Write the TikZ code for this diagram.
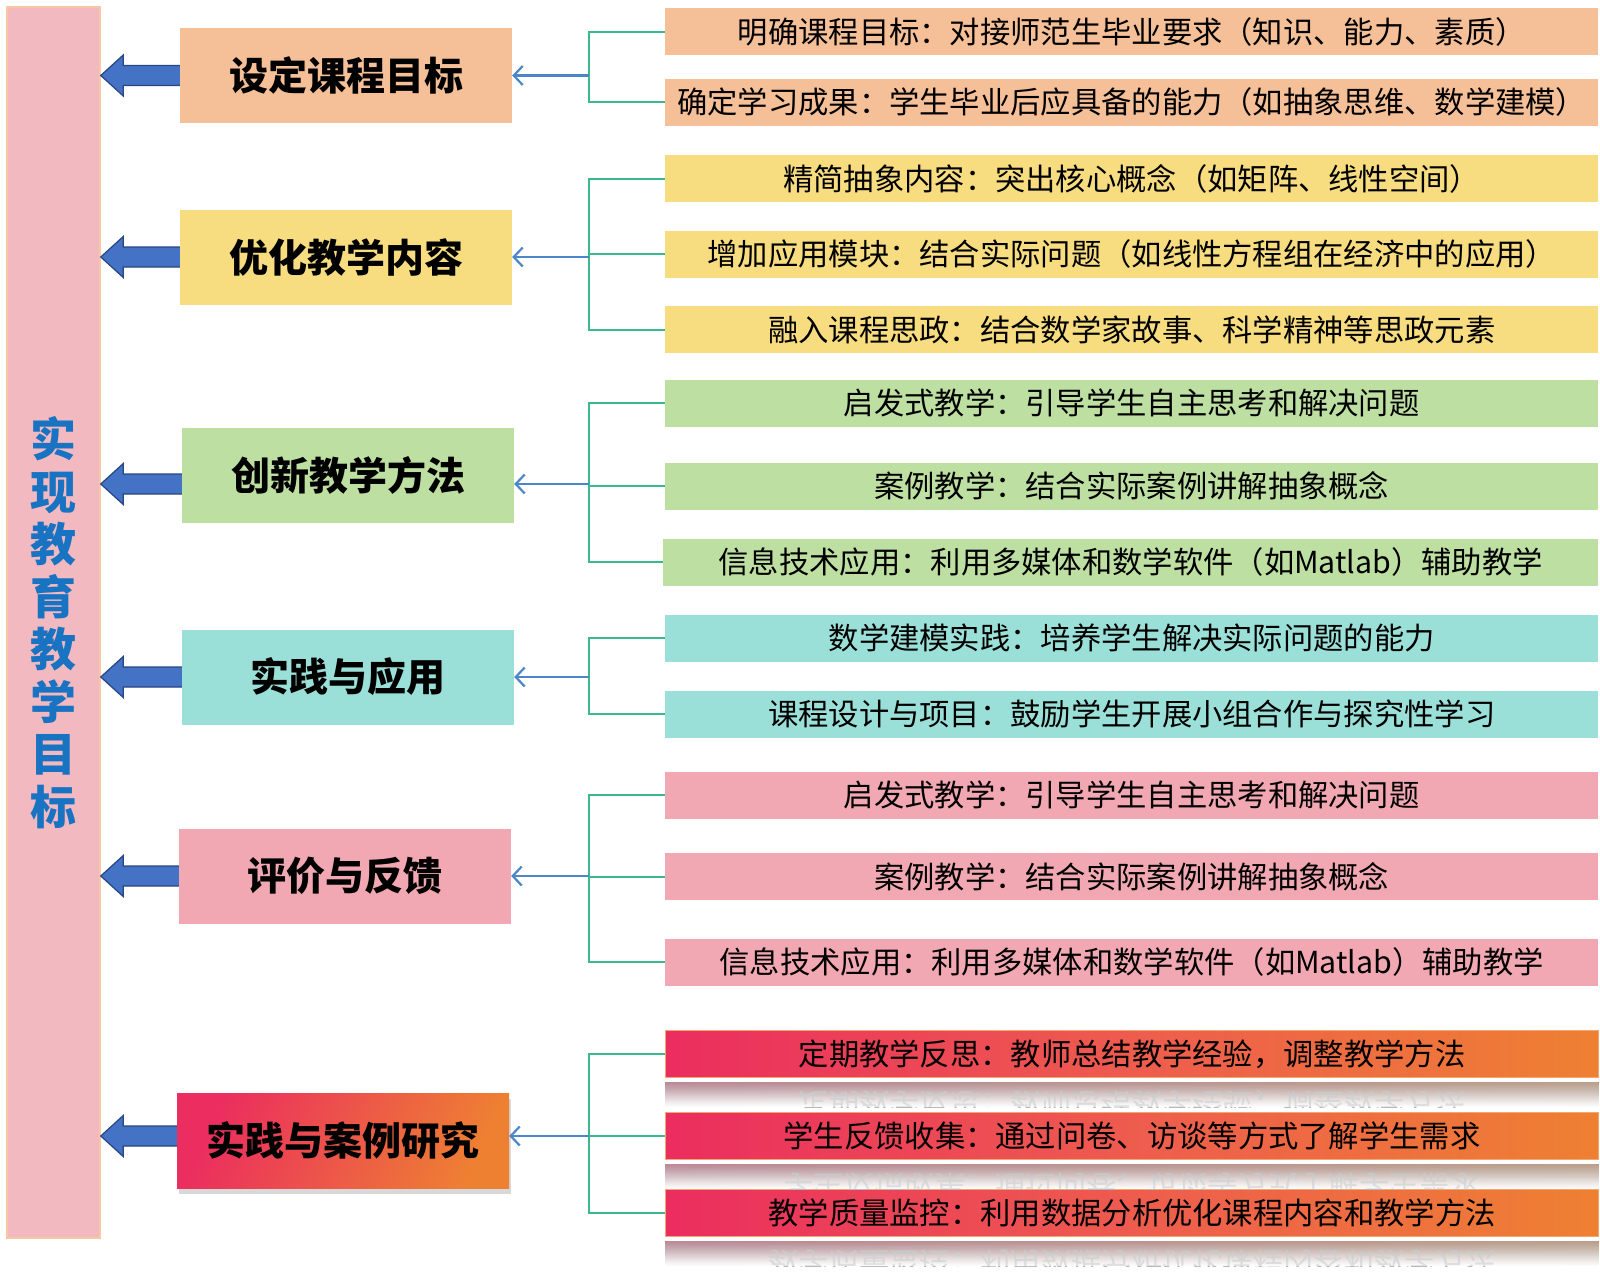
\documentclass[tikz,border=0pt]{standalone}
\usepackage{fontspec}
\setmainfont{Noto Sans CJK SC}
\usetikzlibrary{arrows.meta,shadows,fadings,calc}

\definecolor{peach}{RGB}{245,191,151}
\definecolor{yel}{RGB}{247,220,128}
\definecolor{grn}{RGB}{190,223,162}
\definecolor{tea}{RGB}{155,224,216}
\definecolor{pnk}{RGB}{242,168,178}
\definecolor{redg}{RGB}{235,45,95}
\definecolor{midg}{RGB}{238,92,78}
\definecolor{orag}{RGB}{238,128,50}
\definecolor{barfill}{RGB}{243,185,192}
\definecolor{barline}{RGB}{248,200,160}
\definecolor{titleblue}{RGB}{25,115,195}
\definecolor{arrfill}{RGB}{68,114,196}
\definecolor{arrline}{RGB}{40,70,130}
\definecolor{glin}{RGB}{60,185,140}
\definecolor{blin}{RGB}{75,135,200}

\tikzfading[name=reflfade, top color=transparent!40, bottom color=transparent!100]

\begin{document}
\begin{tikzpicture}[x=1pt,y=-1pt,
  cat/.style={minimum width=332pt, minimum height=95pt, inner sep=0pt,
    font=\fontsize{39}{39}\selectfont\bfseries},
  item/.style={minimum width=933pt, minimum height=47pt, inner sep=0pt, anchor=west,
    font=\fontsize{30.3}{31}\selectfont},
  gradbox/.style={left color=redg, right color=orag, middle color=midg},
  gline/.style={draw=glin, line width=2pt},
  bline/.style={draw=blin, line width=2.2pt, -{Straight Barb[length=9pt,width=19pt,line width=2.2pt]}},
  blockarr/.style={fill=arrfill, draw=arrline, line width=1.2pt, line join=miter},
  refltext/.style={font=\fontsize{30.3}{31}\selectfont, text=black!28, yscale=-1}
]
\useasboundingbox (0,0) rectangle (1600,1272);
\fill[white] (0,0) rectangle (1600,1272);

% left bar
\node[fill=barfill, draw=barline, line width=1.5pt, minimum width=93pt, minimum height=1231pt,
  inner sep=0pt, text width=60pt, align=center,
  font=\fontsize{46}{52.5}\selectfont\bfseries, text=titleblue]
  (bar) at (53.5,622.5) {实\\现\\教\\育\\教\\学\\目\\标};

% category boxes
\node[cat, fill=peach] (c1) at (346,75.5) {设定课程目标};
\node[cat, fill=yel]   (c2) at (346,257.5) {优化教学内容};
\node[cat, fill=grn]   (c3) at (348,475.5) {创新教学方法};
\node[cat, fill=tea]   (c4) at (348,677) {实践与应用};
\node[cat, fill=pnk]   (c5) at (345,876) {评价与反馈};
\node[cat, left color=redg, right color=orag, shading angle=65,
  drop shadow={shadow xshift=2pt, shadow yshift=-5pt, opacity=0.25, fill=black!60}]
  (c6) at (343,1141) {实践与案例研究};

% bracket coordinates (arrow heights)
\coordinate (b1) at (589,75.5);
\coordinate (b2) at (589,257);
\coordinate (b3) at (589,484);
\coordinate (b4) at (589,677);
\coordinate (b5) at (589,876);
\coordinate (b6) at (589,1136);

% items group 1
\node[item, fill=peach] (i11) at (665,31.5) {明确课程目标：对接师范生毕业要求（知识、能力、素质）};
\node[item, fill=peach] (i12) at (665,102) {确定学习成果：学生毕业后应具备的能力（如抽象思维、数学建模）};
% group 2
\node[item, fill=yel] (i21) at (665,178.5) {精简抽象内容：突出核心概念（如矩阵、线性空间）};
\node[item, fill=yel] (i22) at (665,254) {增加应用模块：结合实际问题（如线性方程组在经济中的应用）};
\node[item, fill=yel] (i23) at (665,329.5) {融入课程思政：结合数学家故事、科学精神等思政元素};
% group 3
\node[item, fill=grn] (i31) at (665,403) {启发式教学：引导学生自主思考和解决问题};
\node[item, fill=grn] (i32) at (665,486) {案例教学：结合实际案例讲解抽象概念};
\node[item, fill=grn, minimum width=935pt] (i33) at (663,562) {信息技术应用：利用多媒体和数学软件（如Matlab）辅助教学};
% group 4
\node[item, fill=tea] (i41) at (665,638) {数学建模实践：培养学生解决实际问题的能力};
\node[item, fill=tea] (i42) at (665,714) {课程设计与项目：鼓励学生开展小组合作与探究性学习};
% group 5
\node[item, fill=pnk] (i51) at (665,795) {启发式教学：引导学生自主思考和解决问题};
\node[item, fill=pnk] (i52) at (665,876.5) {案例教学：结合实际案例讲解抽象概念};
\node[item, fill=pnk] (i53) at (665,962) {信息技术应用：利用多媒体和数学软件（如Matlab）辅助教学};
% group 6
\node[item, gradbox, draw=orag!70, line width=1pt] (i61) at (665,1054) {定期教学反思：教师总结教学经验，调整教学方法};
\node[item, gradbox, draw=orag!70, line width=1pt] (i62) at (665,1136) {学生反馈收集：通过问卷、访谈等方式了解学生需求};
\node[item, gradbox, draw=orag!70, line width=1pt] (i63) at (665,1213) {教学质量监控：利用数据分析优化课程内容和教学方法};

% reflections of group 6
\foreach \n/\t in {i61/定期教学反思：教师总结教学经验，调整教学方法,
                   i62/学生反馈收集：通过问卷、访谈等方式了解学生需求,
                   i63/教学质量监控：利用数据分析优化课程内容和教学方法}{
  \begin{scope}
    \clip ($(\n.south west)+(0,4)$) rectangle ($(\n.south east)+(0,29)$);
    \fill[left color=redg!45, right color=orag!45, path fading=reflfade]
      ($(\n.south west)+(0,4)$) rectangle ($(\n.south east)+(0,29)$);
    \node[refltext] at ($(\n.center)+(0,51)$) {\t};
    \fill[white, path fading=reflfade, fading transform={rotate=180}]
      ($(\n.south west)+(0,4)$) rectangle ($(\n.south east)+(0,29)$);
  \end{scope}
}

% green brackets
\draw[gline] (i11.west) -- (i11.west -| b1) -- (i12.west -| b1) -- (i12.west);
\draw[gline] (i21.west) -- (i21.west -| b2) -- (i23.west -| b2) -- (i23.west);
\draw[gline] (i22.west -| b2) -- (i22.west);
\draw[gline] (i31.west) -- (i31.west -| b3) -- (i33.west -| b3) -- (i33.west);
\draw[gline] (i32.west -| b3) -- (i32.west);
\draw[gline] (i41.west) -- (i41.west -| b4) -- (i42.west -| b4) -- (i42.west);
\draw[gline] (i51.west) -- (i51.west -| b5) -- (i53.west -| b5) -- (i53.west);
\draw[gline] (i52.west -| b5) -- (i52.west);
\draw[gline] (i61.west) -- (i61.west -| b6) -- (i63.west -| b6) -- (i63.west);
\draw[gline] (i62.west -| b6) -- (i62.west);

% blue connectors into category boxes
\foreach \k in {1,...,6}{
  \draw[bline] (b\k) -- (b\k -| c\k.east);
}

% block arrows to the bar
\foreach \k in {1,...,6}{
  \draw[blockarr] ($(b\k -| c\k.west)+(0,-10)$) -- ($(b\k -| bar.east)+(22.5,-10)$)
    -- ($(b\k -| bar.east)+(22.5,-20.5)$) -- (b\k -| bar.east)
    -- ($(b\k -| bar.east)+(22.5,20.5)$) -- ($(b\k -| bar.east)+(22.5,10)$)
    -- ($(b\k -| c\k.west)+(0,10)$);
}
\end{tikzpicture}
\end{document}
